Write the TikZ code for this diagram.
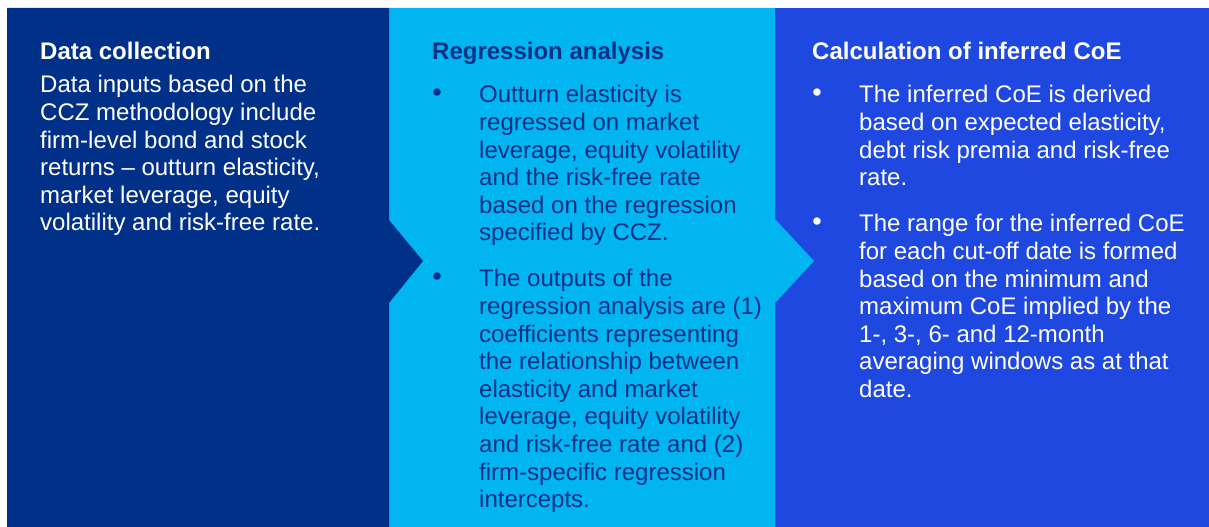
\documentclass[tikz,border=0pt]{standalone}
\usepackage{fontspec}
\setmainfont{Liberation Sans}
\usepackage{tikz}
\definecolor{navyblue}{RGB}{0,48,135}
\definecolor{skyblue}{RGB}{0,181,240}
\definecolor{royalblue}{RGB}{31,72,224}
\usetikzlibrary{positioning}
\newcommand{\paneltext}[1]{\parbox[t]{345bp}{\raggedright #1}}

\begin{document}
\begin{tikzpicture}[x=1bp,y=-1bp,
    heading/.style={anchor=base west,inner sep=0pt,font=\fontsize{24bp}{27.6bp}\selectfont\bfseries},
    body/.style={anchor=base west,inner sep=0pt,font=\fontsize{24bp}{27.6bp}\selectfont},
    dot/.style={anchor=base,inner sep=0pt,font=\fontsize{27bp}{30bp}\selectfont}
]
\useasboundingbox (0,0) rectangle (1209,527);
% panels
\fill[royalblue] (775,8) rectangle (1209,527);
\fill[skyblue] (389,8) -- (775,8) -- (775,219) -- (814,261) -- (775,303) -- (775,527) -- (389,527) -- cycle;
\fill[navyblue] (7,8) -- (389,8) -- (389,220) -- (423,261) -- (389,303) -- (389,527) -- (7,527) -- cycle;

% data collection
\node[heading,text=white] (datahead) at (40,60) {Data collection};
\node[body,text=white] (databody) at (40,93) {\paneltext{Data inputs based on the\\
    CCZ methodology include\\
    firm-level bond and stock\\
    returns – outturn elasticity,\\
    market leverage, equity\\
    volatility and risk-free rate.}};

% regression analysis
\node[heading,text=navyblue] (reghead) at (432,60) {Regression analysis};
\node[body,text=navyblue] (regone) at (479,103) {\paneltext{Outturn elasticity is\\
    regressed on market\\
    leverage, equity volatility\\
    and the risk-free rate\\
    based on the regression\\
    specified by CCZ.}};
\node[body,text=navyblue] (regtwo) at (479,287) {\paneltext{The outputs of the\\
    regression analysis are (1)\\
    coefficients representing\\
    the relationship between\\
    elasticity and market\\
    leverage, equity volatility\\
    and risk-free rate and (2)\\
    firm-specific regression\\
    intercepts.}};
\node[dot,text=navyblue] (regdotone) at ([xshift=-42bp]regone.base west) {\raisebox{1.2bp}{\textbullet}};
\node[dot,text=navyblue] (regdottwo) at ([xshift=-42bp]regtwo.base west) {\raisebox{1.2bp}{\textbullet}};

% calculation of inferred CoE
\node[heading,text=white] (calchead) at (812,60) {Calculation of inferred CoE};
\node[body,text=white] (calcone) at (859,103) {\paneltext{The inferred CoE is derived\\
    based on expected elasticity,\\
    debt risk premia and risk-free\\
    rate.}};
\node[body,text=white] (calctwo) at (859,232) {\paneltext{The range for the inferred CoE\\
    for each cut-off date is formed\\
    based on the minimum and\\
    maximum CoE implied by the\\
    1-, 3-, 6- and 12-month\\
    averaging windows as at that\\
    date.}};
\node[dot,text=white] (calcdotone) at ([xshift=-42bp]calcone.base west) {\raisebox{1.2bp}{\textbullet}};
\node[dot,text=white] (calcdottwo) at ([xshift=-42bp]calctwo.base west) {\raisebox{1.2bp}{\textbullet}};
\end{tikzpicture}
\end{document}
